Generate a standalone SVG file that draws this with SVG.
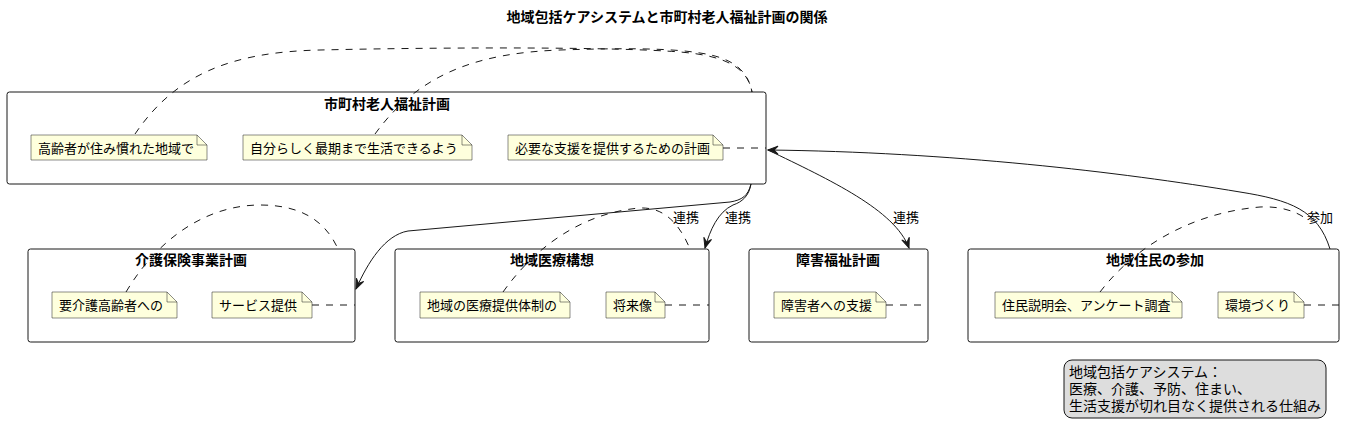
<svg xmlns="http://www.w3.org/2000/svg" width="1351" height="436" viewBox="0 0 1351 436">
<defs>
<style>
text{font-family:"Noto Sans CJK JP","Noto Sans",sans-serif;fill:#000}
.title{font-size:14px;font-weight:bold;text-anchor:middle}
.nt{font-size:13px}
.lbl{font-size:13px}
.lg{font-size:14px}
.pkg{fill:#fff;stroke:#181818;stroke-width:1}
.note{fill:#FEFFDD;stroke:#181818;stroke-width:0.5}
.fold{fill:none;stroke:#181818;stroke-width:0.5}
.dash{fill:none;stroke:#181818;stroke-width:1;stroke-dasharray:7,7}
.edge{fill:none;stroke:#181818;stroke-width:1}
</style>
<marker id="arr" viewBox="-11 -6 12 12" refX="0" refY="0" markerWidth="12" markerHeight="12" markerUnits="userSpaceOnUse" orient="auto">
<path d="M0,0 L-10,-4 L-6,0 L-10,4 Z" fill="#181818" stroke="#181818" stroke-width="1"/>
</marker>
</defs>
<rect width="1351" height="436" fill="#fff"/>
<text class="title" x="667" y="22">地域包括ケアシステムと市町村老人福祉計画の関係</text>

<g id="plan">
<rect class="pkg" x="7" y="92" width="759" height="92" rx="2.5"/>
<text class="title" x="387" y="109">市町村老人福祉計画</text>
<path class="note" d="M31,135 L197,135 L207,145 L207,160 L31,160 Z"/><path class="fold" d="M197,135 L197,145 L207,145"/>
<text class="nt" x="38" y="153">高齢者が住み慣れた地域で</text>
<path class="note" d="M243,135 L462,135 L472,145 L472,160 L243,160 Z"/><path class="fold" d="M462,135 L462,145 L472,145"/>
<text class="nt" x="250" y="153">自分らしく最期まで生活できるよう</text>
<path class="note" d="M508,135 L713,135 L723,145 L723,160 L508,160 Z"/><path class="fold" d="M713,135 L713,145 L723,145"/>
<text class="nt" x="515" y="153">必要な支援を提供するための計画</text>
</g>

<g id="kaigo">
<rect class="pkg" x="28" y="249" width="327" height="93" rx="2.5"/>
<text class="title" x="191" y="265">介護保険事業計画</text>
<path class="note" d="M52,292 L167,292 L177,302 L177,318 L52,318 Z"/><path class="fold" d="M167,292 L167,302 L177,302"/>
<text class="nt" x="59" y="310">要介護高齢者への</text>
<path class="note" d="M212,292 L302,292 L312,302 L312,318 L212,318 Z"/><path class="fold" d="M302,292 L302,302 L312,302"/>
<text class="nt" x="219" y="310">サービス提供</text>
</g>

<g id="iryo">
<rect class="pkg" x="395" y="249" width="314" height="93" rx="2.5"/>
<text class="title" x="552" y="265">地域医療構想</text>
<path class="note" d="M420,292 L560,292 L570,302 L570,318 L420,318 Z"/><path class="fold" d="M560,292 L560,302 L570,302"/>
<text class="nt" x="427" y="310">地域の医療提供体制の</text>
<path class="note" d="M606,292 L655,292 L665,302 L665,318 L606,318 Z"/><path class="fold" d="M655,292 L655,302 L665,302"/>
<text class="nt" x="613" y="310">将来像</text>
</g>

<g id="shogai">
<rect class="pkg" x="749" y="249" width="179" height="93" rx="2.5"/>
<text class="title" x="838" y="265">障害福祉計画</text>
<path class="note" d="M774,292 L876,292 L886,302 L886,318 L774,318 Z"/><path class="fold" d="M876,292 L876,302 L886,302"/>
<text class="nt" x="781" y="310">障害者への支援</text>
</g>

<g id="jumin">
<rect class="pkg" x="968" y="249" width="371" height="93" rx="2.5"/>
<text class="title" x="1155" y="265">地域住民の参加</text>
<path class="note" d="M995,292 L1172,292 L1182,302 L1182,318 L995,318 Z"/><path class="fold" d="M1172,292 L1172,302 L1182,302"/>
<text class="nt" x="1002" y="310">住民説明会、アンケート調査</text>
<path class="note" d="M1218,292 L1294,292 L1304,302 L1304,318 L1218,318 Z"/><path class="fold" d="M1294,292 L1294,302 L1304,302"/>
<text class="nt" x="1225" y="310">環境づくり</text>
</g>

<g id="legend">
<rect x="1064" y="360" width="262" height="58" rx="8" fill="#DDDDDD" stroke="#181818" stroke-width="1"/>
<text class="lg" x="1069" y="377">地域包括ケアシステム：</text>
<text class="lg" x="1069" y="394">医療、介護、予防、住まい、</text>
<text class="lg" x="1069" y="411">生活支援が切れ目なく提供される仕組み</text>
</g>

<g id="connectors">
<path class="dash" d="M135,134 C175,75 230,52 320,50 C450,47 620,47 680,52 C730,56 748,70 752,92"/>
<path class="dash" d="M375,134 C420,72 480,53 560,50 C620,48 670,48 700,53 C735,58 748,72 752,92"/>
<path class="dash" d="M723,148 L766,148"/>
<path class="dash" d="M126,292 C160,235 210,205 260,205 C300,205 325,220 338,249"/>
<path class="dash" d="M312,305 L355,305"/>
<path class="dash" d="M503,292 C540,240 590,212 640,208 C665,207 680,225 690,249"/>
<path class="dash" d="M665,305 L709,305"/>
<path class="dash" d="M886,305 L928,305"/>
<path class="dash" d="M1100,292 C1140,240 1200,212 1260,207 C1280,206 1295,211 1305,218"/>
<path class="dash" d="M1304,305 L1339,305"/>

<path class="edge" d="M751,184 C748,196 742,200 730,202 L408,231 C385,235 368,262 356,289" marker-end="url(#arr)"/>
<path class="edge" d="M751,184 C749,196 742,202 733,205 C718,212 710,230 705,248" marker-end="url(#arr)"/>
<path class="edge" d="M768,150 C830,180 895,210 909,248" marker-end="url(#arr)"/>
<path class="edge" d="M1330,249 C1318,210 1290,200 1240,192 C1120,172 950,152 768,150" marker-end="url(#arr)"/>
<text class="lbl" x="673" y="222">連携</text>
<text class="lbl" x="725" y="222">連携</text>
<text class="lbl" x="893" y="222">連携</text>
<text class="lbl" x="1307" y="222">参加</text>
</g>
</svg>
